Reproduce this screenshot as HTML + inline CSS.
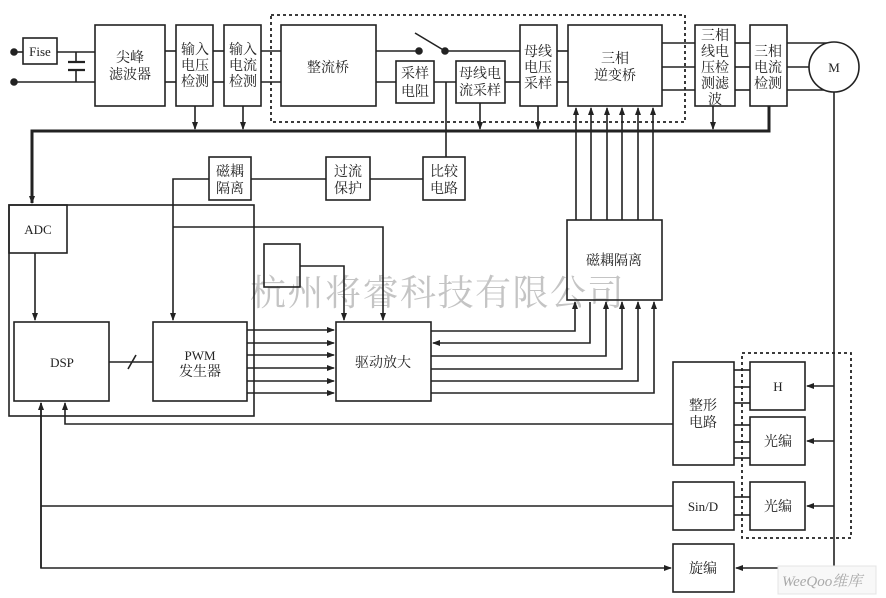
<!DOCTYPE html>
<html><head><meta charset="utf-8"><style>
body{margin:0;background:#fff}
svg{display:block}
text{font-family:"Liberation Serif","Noto Serif CJK SC",serif;fill:#222}
</style></head><body>
<svg width="886" height="598" viewBox="0 0 886 598" xmlns="http://www.w3.org/2000/svg">
<defs>
<marker id="a" markerWidth="8" markerHeight="8" refX="7" refY="3" orient="auto" markerUnits="userSpaceOnUse"><path d="M0,0 L8,3 L0,6 z" fill="#222"/></marker>
</defs>
<text x="250" y="305" font-size="36" style="fill:#c4c4c4" letter-spacing="1.5">杭州将睿科技有限公司</text>
<g stroke="#222" stroke-width="1.6" fill="none">
<circle cx="14" cy="52" r="3" fill="#222"/><circle cx="14" cy="82" r="3" fill="#222"/>
<line x1="14" y1="52" x2="23" y2="52"/><line x1="57" y1="52" x2="95" y2="52"/>
<line x1="14" y1="82" x2="95" y2="82"/>
<rect x="23" y="38" width="34" height="26"/>
<line x1="76" y1="52" x2="76" y2="62"/><line x1="76" y1="70" x2="76" y2="82"/>
<line x1="68" y1="62" x2="85" y2="62" stroke-width="2.2"/><line x1="68" y1="70" x2="85" y2="70" stroke-width="2.2"/>
<rect x="95" y="25" width="70" height="81"/>
<line x1="165" y1="51" x2="176" y2="51"/><line x1="165" y1="82" x2="176" y2="82"/>
<rect x="176" y="25" width="37" height="81"/>
<line x1="213" y1="51" x2="224" y2="51"/><line x1="213" y1="82" x2="224" y2="82"/>
<rect x="224" y="25" width="37" height="81"/>
<line x1="261" y1="51" x2="281" y2="51"/><line x1="261" y1="82" x2="281" y2="82"/>
<rect x="271" y="15" width="414" height="107" stroke-dasharray="3,3" stroke-width="1.8"/>
<rect x="281" y="25" width="95" height="81"/>
<line x1="376" y1="51" x2="419" y2="51"/>
<circle cx="419" cy="51" r="3" fill="#222"/><circle cx="445" cy="51" r="3" fill="#222"/>
<line x1="415" y1="33" x2="445" y2="51"/>
<line x1="445" y1="51" x2="520" y2="51"/>
<line x1="376" y1="82" x2="396" y2="82"/>
<rect x="396" y="61" width="38" height="42"/>
<line x1="434" y1="82" x2="456" y2="82"/>
<rect x="456" y="61" width="49" height="42"/>
<line x1="505" y1="82" x2="520" y2="82"/>
<rect x="520" y="25" width="37" height="81"/>
<line x1="557" y1="51" x2="568" y2="51"/><line x1="557" y1="82" x2="568" y2="82"/>
<rect x="568" y="25" width="94" height="81"/>
<line x1="662" y1="43" x2="695" y2="43"/><line x1="662" y1="67" x2="695" y2="67"/><line x1="662" y1="90" x2="695" y2="90"/>
<rect x="695" y="25" width="40" height="81"/>
<line x1="735" y1="43" x2="750" y2="43"/><line x1="735" y1="67" x2="750" y2="67"/><line x1="735" y1="90" x2="750" y2="90"/>
<rect x="750" y="25" width="37" height="81"/>
<line x1="787" y1="43" x2="834" y2="43"/><line x1="787" y1="67" x2="809" y2="67"/><line x1="787" y1="90" x2="834" y2="90"/>
<circle cx="834" cy="67" r="25" fill="#fff"/>
<polyline points="769,106 769,131 32,131 32,203" stroke-width="3" marker-end="url(#a)"/>
<line x1="195" y1="106" x2="195" y2="129" marker-end="url(#a)"/>
<line x1="243" y1="106" x2="243" y2="129" marker-end="url(#a)"/>
<line x1="480" y1="103" x2="480" y2="129" marker-end="url(#a)"/>
<line x1="538" y1="106" x2="538" y2="129" marker-end="url(#a)"/>
<line x1="713" y1="106" x2="713" y2="129" marker-end="url(#a)"/>
<line x1="446" y1="82" x2="446" y2="157"/>
<rect x="423" y="157" width="42" height="43"/>
<rect x="326" y="157" width="44" height="43"/>
<rect x="209" y="157" width="42" height="43"/>
<line x1="251" y1="179" x2="326" y2="179"/><line x1="370" y1="179" x2="423" y2="179"/>
<polyline points="209,179 173,179 173,320" marker-end="url(#a)"/>
<polyline points="173,227 383,227 383,320" marker-end="url(#a)"/>
<rect x="9" y="205" width="245" height="211"/>
<rect x="9" y="205" width="58" height="48"/>
<line x1="35" y1="253" x2="35" y2="320" marker-end="url(#a)"/>
<rect x="14" y="322" width="95" height="79"/>
<rect x="153" y="322" width="94" height="79"/>
<line x1="109" y1="362" x2="153" y2="362"/><line x1="128" y1="369" x2="136" y2="355"/>
<rect x="264" y="244" width="36" height="43"/>
<polyline points="300,266 344,266 344,320" marker-end="url(#a)"/>
<rect x="336" y="322" width="95" height="79"/>
<line x1="247" y1="330" x2="334" y2="330" marker-end="url(#a)"/>
<line x1="247" y1="343" x2="334" y2="343" marker-end="url(#a)"/>
<line x1="247" y1="355" x2="334" y2="355" marker-end="url(#a)"/>
<line x1="247" y1="368" x2="334" y2="368" marker-end="url(#a)"/>
<line x1="247" y1="381" x2="334" y2="381" marker-end="url(#a)"/>
<line x1="247" y1="393" x2="334" y2="393" marker-end="url(#a)"/>
<rect x="567" y="220" width="95" height="80"/>
<line x1="576" y1="220" x2="576" y2="108" marker-end="url(#a)"/>
<line x1="591" y1="220" x2="591" y2="108" marker-end="url(#a)"/>
<line x1="607" y1="220" x2="607" y2="108" marker-end="url(#a)"/>
<line x1="622" y1="220" x2="622" y2="108" marker-end="url(#a)"/>
<line x1="638" y1="220" x2="638" y2="108" marker-end="url(#a)"/>
<line x1="653" y1="220" x2="653" y2="108" marker-end="url(#a)"/>
<polyline points="431,331 575,331 575,302" marker-end="url(#a)"/>
<polyline points="590,302 590,343 433,343" marker-end="url(#a)"/>
<polyline points="431,356 606,356 606,302" marker-end="url(#a)"/>
<polyline points="431,369 622,369 622,302" marker-end="url(#a)"/>
<polyline points="431,381 638,381 638,302" marker-end="url(#a)"/>
<polyline points="431,393 654,393 654,302" marker-end="url(#a)"/>
<rect x="742" y="353" width="109" height="185" stroke-dasharray="3,3" stroke-width="1.8"/>
<rect x="673" y="362" width="61" height="103"/>
<rect x="750" y="362" width="55" height="48"/>
<rect x="750" y="417" width="55" height="48"/>
<rect x="673" y="482" width="61" height="48"/>
<rect x="750" y="482" width="55" height="48"/>
<rect x="673" y="544" width="61" height="48"/>
<line x1="734" y1="370" x2="750" y2="370"/><line x1="734" y1="387" x2="750" y2="387"/><line x1="734" y1="403" x2="750" y2="403"/>
<line x1="734" y1="425" x2="750" y2="425"/><line x1="734" y1="442" x2="750" y2="442"/><line x1="734" y1="458" x2="750" y2="458"/>
<line x1="734" y1="497" x2="750" y2="497"/><line x1="734" y1="515" x2="750" y2="515"/>
<polyline points="834,92 834,568 736,568" marker-end="url(#a)"/>
<line x1="834" y1="386" x2="807" y2="386" marker-end="url(#a)"/>
<line x1="834" y1="441" x2="807" y2="441" marker-end="url(#a)"/>
<line x1="834" y1="506" x2="807" y2="506" marker-end="url(#a)"/>
<polyline points="673,424 65,424 65,403" marker-end="url(#a)"/>
<line x1="673" y1="506" x2="41" y2="506"/>
<polyline points="41,403 41,568 671,568" marker-end="url(#a)"/>
<line x1="41" y1="568" x2="41" y2="403" marker-end="url(#a)"/>
</g>
<g font-size="14">
<text x="40" y="56" text-anchor="middle" font-size="13">Fise</text>
<text x="130" y="62" text-anchor="middle">尖峰</text><text x="130" y="79" text-anchor="middle">滤波器</text>
<text x="195" y="54" text-anchor="middle">输入</text><text x="195" y="70" text-anchor="middle">电压</text><text x="195" y="86" text-anchor="middle">检测</text>
<text x="243" y="54" text-anchor="middle">输入</text><text x="243" y="70" text-anchor="middle">电流</text><text x="243" y="86" text-anchor="middle">检测</text>
<text x="328" y="72" text-anchor="middle">整流桥</text>
<text x="415" y="78" text-anchor="middle">采样</text><text x="415" y="96" text-anchor="middle">电阻</text>
<text x="480" y="78" text-anchor="middle">母线电</text><text x="480" y="95" text-anchor="middle">流采样</text>
<text x="538" y="56" text-anchor="middle">母线</text><text x="538" y="72" text-anchor="middle">电压</text><text x="538" y="88" text-anchor="middle">采样</text>
<text x="615" y="63" text-anchor="middle">三相</text><text x="615" y="80" text-anchor="middle">逆变桥</text>
<text x="715" y="40" text-anchor="middle">三相</text><text x="715" y="56" text-anchor="middle">线电</text><text x="715" y="72" text-anchor="middle">压检</text><text x="715" y="88" text-anchor="middle">测滤</text><text x="715" y="104" text-anchor="middle">波</text>
<text x="768" y="56" text-anchor="middle">三相</text><text x="768" y="72" text-anchor="middle">电流</text><text x="768" y="88" text-anchor="middle">检测</text>
<text x="834" y="72" text-anchor="middle" font-size="13">M</text>
<text x="230" y="176" text-anchor="middle">磁耦</text><text x="230" y="193" text-anchor="middle">隔离</text>
<text x="348" y="176" text-anchor="middle">过流</text><text x="348" y="193" text-anchor="middle">保护</text>
<text x="444" y="176" text-anchor="middle">比较</text><text x="444" y="193" text-anchor="middle">电路</text>
<text x="38" y="234" text-anchor="middle" font-size="13">ADC</text>
<text x="62" y="367" text-anchor="middle" font-size="13">DSP</text>
<text x="200" y="360" text-anchor="middle" font-size="13">PWM</text><text x="200" y="376" text-anchor="middle">发生器</text>
<text x="383" y="367" text-anchor="middle">驱动放大</text>
<text x="614" y="265" text-anchor="middle">磁耦隔离</text>
<text x="703" y="410" text-anchor="middle">整形</text><text x="703" y="427" text-anchor="middle">电路</text>
<text x="778" y="391" text-anchor="middle" font-size="13">H</text>
<text x="778" y="446" text-anchor="middle">光编</text>
<text x="703" y="511" text-anchor="middle" font-size="13">Sin/D</text>
<text x="778" y="511" text-anchor="middle">光编</text>
<text x="703" y="573" text-anchor="middle">旋编</text>
</g>
<rect x="778" y="566" width="98" height="28" fill="#f8f8f8" stroke="#e4e4e4"/>
<text x="782" y="586" font-size="15" font-style="italic" style="fill:#aaa">WeeQoo维库</text>
</svg>
</body></html>
